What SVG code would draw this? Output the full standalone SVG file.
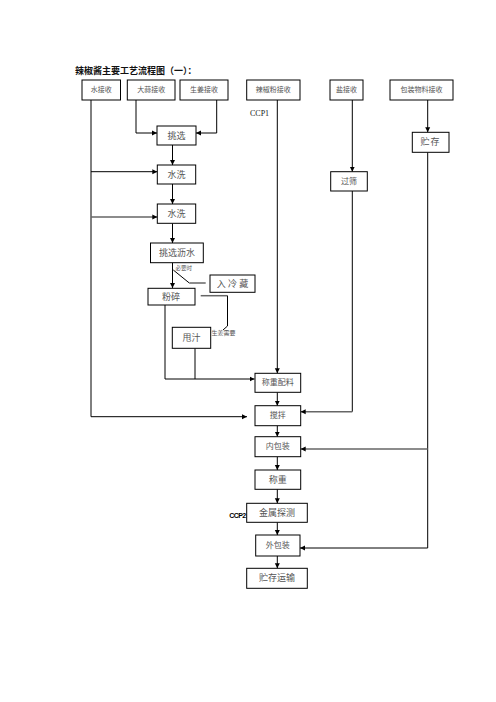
<svg xmlns="http://www.w3.org/2000/svg" width="496" height="702" viewBox="0 0 496 702">
<defs>
<marker id="ah" markerWidth="6" markerHeight="6" refX="5" refY="3" orient="auto" markerUnits="userSpaceOnUse">
<path d="M0,0.5 L5,3 L0,5.5 Z" fill="#000"/>
</marker>
<style>
rect{fill:#fff;stroke:#000;stroke-width:1}
text{font-family:"Liberation Serif","Noto Sans CJK SC",serif;fill:#555;text-anchor:middle;dominant-baseline:central}
.t7{font-size:7px}
.t8{font-size:8px}
.t9{font-size:9px}
.c{fill:none;stroke:#000;stroke-width:1}
.g{fill:none;stroke:#666;stroke-width:1.5}
.a{marker-end:url(#ah)}
</style>
</defs>
<rect x="0" y="0" width="496" height="702" style="fill:#fff;stroke:none"/>
<text x="75" y="70" style="font-size:9px;font-weight:bold;fill:#111;text-anchor:start;font-family:'Noto Sans CJK SC',sans-serif">辣椒酱主要工艺流程图（一）：</text>

<g id="connectors">
<path class="c a" d="M136 100 V133 H157"/>
<path class="c a" d="M216.7 100 V133 H196"/>
<path class="c a" d="M172.5 145 V165"/>
<path class="c a" d="M91 100 V416.7 H247"/>
<path class="c a" d="M91 171.7 H157.3"/>
<path class="g a" d="M91 217 H157.3"/>
<path class="c a" d="M172.5 184 V204"/>
<path class="c a" d="M172.5 223.3 V243"/>
<path class="c a" d="M172.5 262.7 V288"/>
<path class="c" d="M173.3 270 L189.3 283"/>
<path class="g" d="M189.3 283 H205.7"/>
<path class="g" d="M200.7 295.7 H227.5"/>
<path class="c" d="M227.5 295.7 V326 L223 330"/>
<path class="c a" d="M165 305 V379 H254.5"/>
<path class="c" d="M195 348.3 V379"/>
<path class="c a" d="M277.3 100 V373.3"/>
<path class="c a" d="M277.3 392.3 V405.7"/>
<path class="c a" d="M352.3 100 V171.7"/>
<path class="c" d="M352.3 191 V411.7"/>
<path class="g a" d="M352.3 411.7 H300.7"/>
<path class="c a" d="M277.3 425.7 V436.7"/>
<path class="c a" d="M427.7 100 V132.3"/>
<path class="c a" d="M427.7 152.3 V548 H300"/>
<path class="g a" d="M427.7 449 H300.7"/>
<path class="c a" d="M277.3 456.7 V470"/>
<path class="c a" d="M277.3 489.3 V503.3"/>
<path class="c a" d="M277.3 522.3 V535"/>
<path class="c a" d="M277.3 556 V568.3"/>
</g>

<g id="n-water-recv"><rect x="82" y="80" width="38.5" height="20"/><text class="t7" x="101.2" y="90">水接收</text></g>
<g id="n-garlic-recv"><rect x="127.3" y="80" width="47.7" height="20"/><text class="t7" x="151.2" y="90">大蒜接收</text></g>
<g id="n-ginger-recv"><rect x="180" y="80" width="48" height="20"/><text class="t7" x="204" y="90">生姜接收</text></g>
<g id="n-chili-recv"><rect x="246.7" y="80" width="53.3" height="20"/><text class="t7" x="273.3" y="90">辣椒粉接收</text></g>
<g id="n-salt-recv"><rect x="330" y="80" width="33" height="20"/><text class="t7" x="346.5" y="90">盐接收</text></g>
<g id="n-pack-recv"><rect x="390" y="80" width="63" height="20"/><text class="t7" x="421.5" y="90">包装物料接收</text></g>

<text x="250" y="113" style="font-size:8px;fill:#222;text-anchor:start">CCP1</text>

<g id="n-pick"><rect x="157" y="126" width="39" height="19"/><text class="t9" x="176.5" y="135.5">挑选</text></g>
<g id="n-wash1"><rect x="157.3" y="165" width="38.4" height="19"/><text class="t9" x="176.5" y="174.5">水洗</text></g>
<g id="n-wash2"><rect x="157.3" y="204" width="38.4" height="19.3"/><text class="t9" x="176.5" y="213.7">水洗</text></g>
<g id="n-drain"><rect x="150.5" y="243" width="52.8" height="19.7"/><text class="t9" x="176.9" y="252.8">挑选沥水</text></g>
<text x="183.8" y="268" style="font-size:5.5px">必要时</text>
<g id="n-cold"><rect x="210" y="275" width="45" height="17.3"/><text class="t9" x="232.5" y="283.7">入 冷 藏</text></g>
<g id="n-crush"><rect x="148" y="288.3" width="47" height="16.7"/><text class="t9" x="171" y="296.7">粉碎</text></g>
<g id="n-spin"><rect x="172.3" y="327.3" width="38.4" height="21"/><text class="t9" x="191.5" y="337.8">甩汁</text></g>
<text x="223.5" y="332.5" style="font-size:6px">生姜需要</text>
<g id="n-weighmix"><rect x="255" y="373.3" width="45.7" height="19"/><text class="t8" x="277.8" y="382.8">称重配料</text></g>
<g id="n-stir"><rect x="255" y="405.7" width="45.7" height="20"/><text class="t8" x="277.8" y="415.7">搅拌</text></g>
<g id="n-inner"><rect x="255" y="436.7" width="45.7" height="20"/><text class="t8" x="277.8" y="446.7">内包装</text></g>
<g id="n-weigh"><rect x="255" y="470" width="45.7" height="19.3"/><text class="t9" x="277.8" y="479.7">称重</text></g>
<g id="n-metal"><rect x="246.7" y="503.3" width="60.6" height="19"/><text class="t9" x="277" y="512.8">金属探测</text></g>
<text x="237.5" y="515.5" style="font-family:'Liberation Sans',sans-serif;font-size:7px;font-weight:bold;fill:#000;letter-spacing:-0.6px">CCP2</text>
<g id="n-outer"><rect x="255.7" y="535" width="44.3" height="21"/><text class="t8" x="277.8" y="545.5">外包装</text></g>
<g id="n-store-ship"><rect x="246.7" y="568.3" width="60.6" height="20"/><text class="t9" x="277" y="578.3">贮存运输</text></g>
<g id="n-sieve"><rect x="330.7" y="171.7" width="36.6" height="19.3"/><text class="t8" x="349" y="181.3">过筛</text></g>
<g id="n-store"><rect x="412.3" y="132.3" width="36.7" height="20"/><text class="t9" x="430.6" y="142.3" style="letter-spacing:1px">贮存</text></g>
</svg>
